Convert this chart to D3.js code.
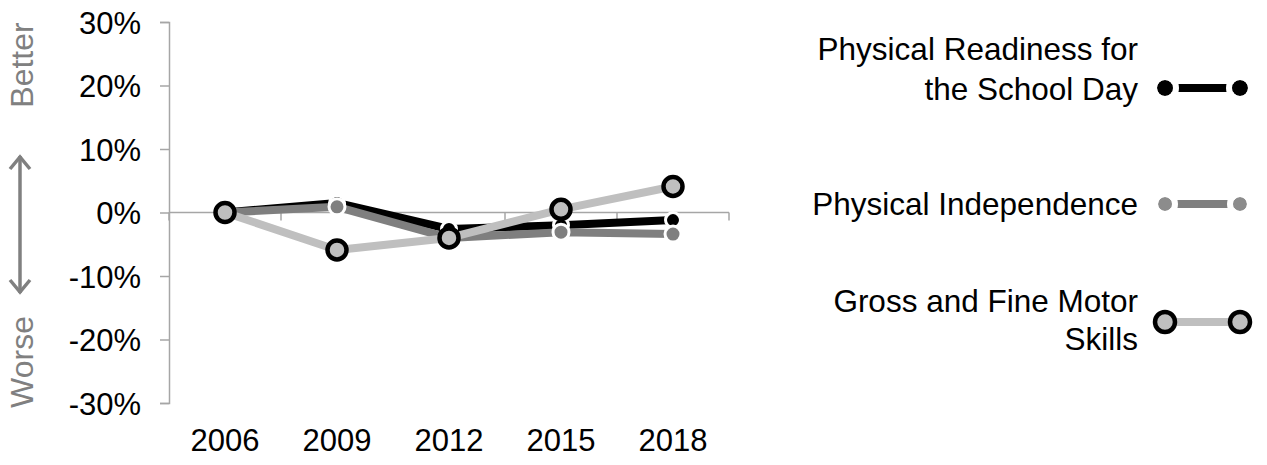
<!DOCTYPE html>
<html>
<head>
<meta charset="utf-8">
<script src="https://cdn.jsdelivr.net/npm/d3@7"></script>
<style>
  body { margin: 0; background: #fff; }
  svg { display: block; font-family: Arial, 'Liberation Sans', sans-serif; }
  .axis path, .axis line { stroke: #a6a6a6; stroke-width: 1.5; }
  .axis text { fill: #000; font-size: 31px; }
</style>
</head>
<body>
<div id="chart"></div>
<script>
// survey years
const years = ['2006', '2009', '2012', '2015', '2018']

// change since 2006, in percent
const readiness = [0, 1.5, -2.6, -2.0, -1.2]
const independence = [0, 0.9, -4.0, -3.1, -3.4]
const motorSkills = [0, -5.9, -4.0, 0.5, 4.1]

const yTicks = [-30, -20, -10, 0, 10, 20, 30]

const seriesNames = [
  ['Physical Readiness for', 'the School Day'],
  ['Physical Independence'],
  ['Gross and Fine Motor', 'Skills']
]

const width = 1267
const height = 465

const svg = d3.select('#chart').append('svg')
  .attr('width', width)
  .attr('height', height)

const x = d3.scaleBand()
  .domain(years)
  .range([169, 729])
  .paddingInner(0)

const y = d3.scaleLinear()
  .domain([-30, 30])
  .range([403, 22])

const cx = (d, i) => x(years[i]) + x.bandwidth() / 2

// y axis
svg.append('g')
  .attr('class', 'axis')
  .attr('transform', 'translate(169,0)')
  .call(d3.axisLeft(y)
    .tickValues(yTicks)
    .tickSize(9)
    .tickSizeOuter(9)
    .tickPadding(19)
    .tickFormat(d => d + '%'))
  .call(g => g.selectAll('text').attr('dy', '0.36em'))

// x axis sits on zero, ticks between categories
const xAxis = svg.append('g').attr('class', 'axis')
xAxis.append('line')
  .attr('x1', x.range()[0]).attr('x2', x.range()[1])
  .attr('y1', y(0)).attr('y2', y(0))
xAxis.selectAll('.tick-mark')
  .data(years.concat(['end']))
  .enter().append('line')
  .attr('class', 'tick-mark')
  .attr('x1', (d, i) => x.range()[0] + i * x.bandwidth())
  .attr('x2', (d, i) => x.range()[0] + i * x.bandwidth())
  .attr('y1', y(0))
  .attr('y2', y(0) + 8)
xAxis.selectAll('text')
  .data(years)
  .enter().append('text')
  .attr('x', d => x(d) + x.bandwidth() / 2)
  .attr('y', 451)
  .attr('text-anchor', 'middle')
  .text(d => d)

// Better / Worse hint on the left
const grey = '#808080'
svg.append('text')
  .attr('transform', 'translate(33,65) rotate(-90)')
  .attr('text-anchor', 'middle')
  .attr('fill', grey)
  .style('font-size', '32px')
  .text('Better')
svg.append('text')
  .attr('transform', 'translate(33,362) rotate(-90)')
  .attr('text-anchor', 'middle')
  .attr('fill', grey)
  .style('font-size', '32px')
  .text('Worse')
svg.append('line')
  .attr('x1', 20).attr('x2', 20)
  .attr('y1', 156).attr('y2', 293)
  .attr('stroke', grey).attr('stroke-width', 3.5)
svg.append('path')
  .attr('d', 'M10,169 L20,157 L30,169 M10,280 L20,292 L30,280')
  .attr('fill', 'none')
  .attr('stroke', grey).attr('stroke-width', 3.5)

const line = d3.line()
  .x(cx)
  .y(d => y(d))

const styles = [
  { data: readiness, line: '#000', fill: '#000', stroke: '#fff', r: 7.5, sw: 3 },
  { data: independence, line: '#7f7f7f', fill: '#7f7f7f', stroke: '#fff', r: 8, sw: 3 },
  { data: motorSkills, line: '#bfbfbf', fill: '#bfbfbf', stroke: '#000', r: 9.5, sw: 4.5 }
]

styles.forEach(s => {
  svg.append('path')
    .datum(s.data)
    .attr('d', line)
    .attr('fill', 'none')
    .attr('stroke', s.line)
    .attr('stroke-width', 8)
    .attr('stroke-linejoin', 'round')
})

styles.forEach(s => {
  svg.selectAll(null)
    .data(s.data)
    .enter().append('circle')
    .attr('cx', cx)
    .attr('cy', d => y(d))
    .attr('r', s.r)
    .attr('fill', s.fill)
    .attr('stroke', s.stroke)
    .attr('stroke-width', s.sw)
})

// legend
const legendY = [88, 204, 322]
const legendBaselines = [[60, 100], [215], [312, 350]]
const legendMarks = [
  { line: '#000', fill: '#000', stroke: 'none', r: 8, sw: 0 },
  { line: '#7f7f7f', fill: '#8c8c8c', stroke: 'none', r: 7, sw: 0 },
  { line: '#bfbfbf', fill: '#bfbfbf', stroke: '#000', r: 10, sw: 4.5 }
]

const legend = svg.append('g')
seriesNames.forEach((lines, i) => {
  const m = legendMarks[i]
  lines.forEach((t, j) => {
    legend.append('text')
      .attr('x', 1138)
      .attr('y', legendBaselines[i][j])
      .attr('text-anchor', 'end')
      .style('font-size', '31.5px')
      .text(t)
  })
  legend.append('line')
    .attr('x1', 1165).attr('x2', 1240)
    .attr('y1', legendY[i]).attr('y2', legendY[i])
    .attr('stroke', m.line)
    .attr('stroke-width', 8)
  legend.selectAll(null)
    .data([1165, 1240])
    .enter().append('circle')
    .attr('cx', d => d)
    .attr('cy', legendY[i])
    .attr('r', m.r)
    .attr('fill', m.fill)
    .attr('stroke', m.stroke)
    .attr('stroke-width', m.sw)
  if (i < 2) {
    // white gaps between dots and bar
    legend.selectAll(null)
      .data([1165, 1240])
      .enter().append('circle')
      .attr('cx', d => d)
      .attr('cy', legendY[i])
      .attr('r', m.r + 3)
      .attr('fill', 'none')
      .attr('stroke', '#fff')
      .attr('stroke-width', 6)
  }
})
</script>
</body>
</html>
